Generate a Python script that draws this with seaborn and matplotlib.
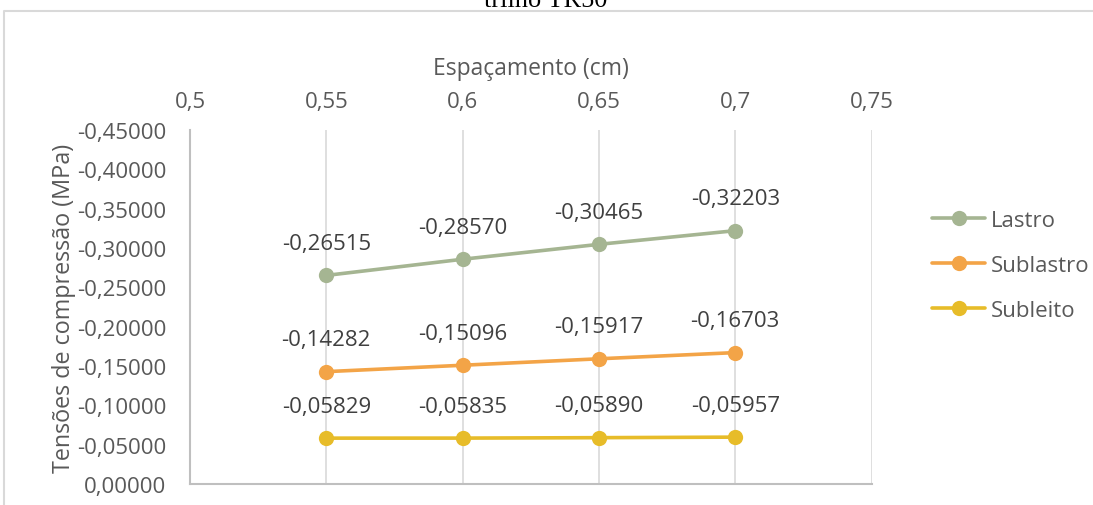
import matplotlib
matplotlib.use("Agg")
import matplotlib.pyplot as plt
import seaborn as sns
import pandas as pd
from matplotlib.lines import Line2D
from matplotlib.ticker import FuncFormatter, FixedLocator

# Spacing of sleepers (x) and compressive stresses per layer
espacamento = [0.55, 0.60, 0.65, 0.70]
lastro = [-0.26515, -0.28570, -0.30465, -0.32203]
sublastro = [-0.14282, -0.15096, -0.15917, -0.16703]
subleito = [-0.05829, -0.05835, -0.05890, -0.05957]
camadas = ["Lastro", "Sublastro", "Subleito"]
cores = ["#A5B592", "#F3A447", "#E7BC29"]
x_ticks = [0.5, 0.55, 0.6, 0.65, 0.7, 0.75]
y_ticks = [0.0, -0.05, -0.10, -0.15, -0.20, -0.25, -0.30, -0.35, -0.40, -0.45]

df = pd.DataFrame({
    "Espaçamento": espacamento * 3,
    "Tensão": lastro + sublastro + subleito,
    "Camada": [c for c in camadas for _ in espacamento],
})

sns.set_theme(style="white")
plt.rcParams["font.family"] = ["Open Sans", "DejaVu Sans"]

W, H = 1093, 506
fig = plt.figure(figsize=(W / 100, H / 100), dpi=100)

# Chart frame (left and top edges; the rest runs off the canvas)
fig.add_artist(Line2D([4 / W, 4 / W, 1.05], [-0.05, (H - 12) / H, (H - 12) / H],
                      transform=fig.transFigure, color="#d9d9d9", linewidth=1.5))
fig.text(546 / W, (H - 7) / H, "trilho TR50", family="Liberation Serif",
         fontsize=19, ha="center", va="baseline", color="black")

ax = fig.add_axes([190 / W, (H - 485) / H, (871.5 - 190) / W, (485 - 131) / H])

sns.lineplot(data=df, x="Espaçamento", y="Tensão", hue="Camada",
             hue_order=camadas, palette=cores, marker="o", markersize=11,
             markeredgewidth=0, linewidth=2.6, ax=ax, legend=True)

ax.set_xlim(0.5, 0.75)
ax.set_ylim(0.0, -0.45)
ax.xaxis.set_major_locator(FixedLocator(x_ticks))
ax.yaxis.set_major_locator(FixedLocator(y_ticks))
ax.xaxis.set_major_formatter(FuncFormatter(lambda v, p: f"{v:g}".replace(".", ",")))
ax.yaxis.set_major_formatter(FuncFormatter(
    lambda v, p: ("0,00000" if abs(v) < 1e-9 else f"{v:.5f}".replace(".", ","))))
ax.xaxis.tick_top()
ax.xaxis.set_label_position("top")
ax.tick_params(axis="both", length=0, labelsize=16, labelcolor="#595959")
ax.tick_params(axis="x", pad=13)
ax.tick_params(axis="y", pad=17)
ax.set_xlabel("Espaçamento (cm)", fontsize=16.5, color="#595959", labelpad=12.5)
ax.set_ylabel("Tensões de compressão (MPa)", fontsize=16.8, color="#595959", labelpad=0.6)

ax.grid(axis="x", color="#d9d9d9", linewidth=1.2)
ax.grid(axis="y", visible=False)
ax.set_axisbelow(True)
for s in ["top", "right"]:
    ax.spines[s].set_visible(False)
for s in ["left", "bottom"]:
    ax.spines[s].set_color("#bfbfbf")
    ax.spines[s].set_linewidth(1.5)

# Data labels above each point
for serie in (lastro, sublastro, subleito):
    for xv, yv in zip(espacamento, serie):
        ax.annotate(f"{yv:.5f}".replace(".", ","), (xv, yv), xytext=(0, 23),
                    textcoords="offset points", ha="center", va="center",
                    fontsize=16, color="#404040")

ax.legend(loc="upper left", bbox_to_anchor=(932 / W, (H - 211) / H),
          bbox_transform=fig.transFigure, frameon=False, fontsize=16,
          labelcolor="#595959", handlelength=2.4, handletextpad=0.25,
          labelspacing=1.07, borderaxespad=0, borderpad=0, title=None)

fig.savefig("out.png", dpi=100)
